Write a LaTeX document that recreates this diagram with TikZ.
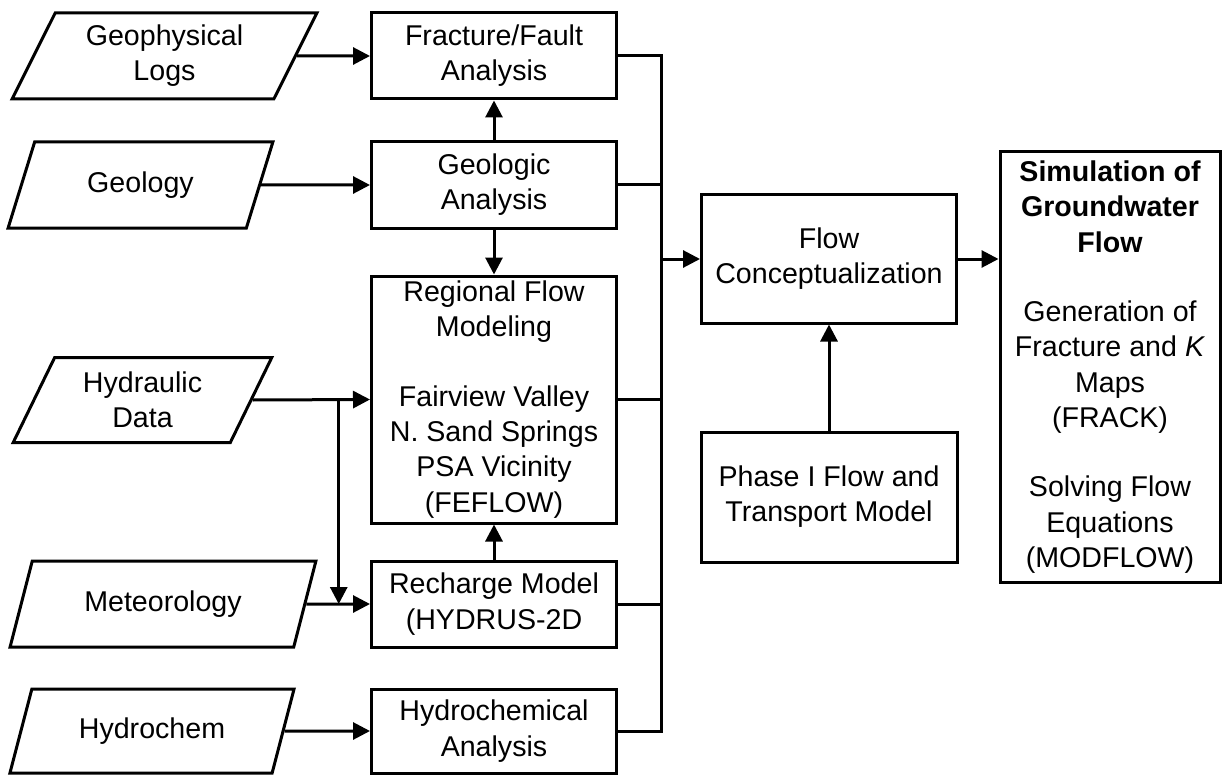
\documentclass[tikz,border=0pt]{standalone}
\usepackage{fontspec}
\setmainfont{Liberation Sans}
\usetikzlibrary{arrows.meta,shapes.geometric}

\begin{document}
\begin{tikzpicture}[x=0.5pt,y=-0.5pt,line width=1.5pt,
    txt/.style={font=\fontsize{14.3}{17.6}\selectfont,align=center},
    databox/.style={txt,draw,trapezium,trapezium left angle=63.4,
      trapezium right angle=116.6,trapezium stretches=true,
      minimum height=43pt,inner sep=0pt},
    procbox/.style={txt,draw,rectangle,inner sep=0pt},
    arr/.style={-{Triangle[length=8.5pt,width=8.5pt]}}]
  \useasboundingbox (0,0) rectangle (1224,775);
  % input data (left column)
  \node[databox,minimum width=152.5pt] (geolog) at (164.5,56) {Geophysical\\Logs};
  \node[databox,minimum width=132.5pt] (geology) at (140.5,185) {Geology};
  \node[databox,minimum width=130.5pt,minimum height=42.5pt] (hydraulic) at (142.5,400) {Hydraulic\\Data};
  \node[databox,minimum width=154pt] (meteo) at (163,604) {Meteorology};
  \node[databox,minimum width=143pt,minimum height=42pt] (hydrochem) at (152,731) {Hydrochem};
  % analyses (middle column)
  \node[procbox,minimum width=122.5pt,minimum height=43pt] (fracture) at (494,56) {Fracture/Fault\\Analysis};
  \node[procbox,minimum width=122.5pt,minimum height=43pt] (geologic) at (494,185) {Geologic\\Analysis};
  \node[procbox,minimum width=122.5pt,minimum height=123.5pt] (regional) at (494,399.5)
    {Regional Flow\\Modeling\\[17.2pt]Fairview Valley\\N. Sand Springs\\PSA Vicinity\\(FEFLOW)};
  \node[procbox,minimum width=122.5pt,minimum height=43pt] (recharge) at (494,604) {Recharge Model\\(HYDRUS-2D};
  \node[procbox,minimum width=122.5pt,minimum height=42pt] (hydrochemical) at (494,731) {Hydrochemical\\Analysis};
  % conceptual model and simulation
  \node[procbox,minimum width=127.5pt,minimum height=64pt] (flow) at (829,259) {Flow\\Conceptualization};
  \node[procbox,minimum width=128pt,minimum height=65pt] (phase) at (829,497) {Phase I Flow and\\Transport Model};
  \node[procbox,minimum width=110pt,minimum height=215pt] (sim) at (1110,367)
    {\textbf{Simulation of}\\\textbf{Groundwater}\\\textbf{Flow}\\[17.2pt]Generation of\\Fracture and \textit{K}\\Maps\\(FRACK)\\[17.2pt]Solving Flow\\Equations\\(MODFLOW)};
  % inputs to analyses
  \draw[arr] (geolog.east) -- (fracture.west);
  \draw[arr] (geology.east) -- (geologic.west);
  \draw[arr] (hydraulic.east) -- (regional.west);
  \draw[arr] (meteo.east) -- (recharge.west);
  \draw[arr] (hydrochem.east) -- (hydrochemical.west);
  \path (hydraulic.east) ++(86,0) coordinate (split);
  \draw[arr] (split) -- (split |- recharge.west);
  \draw[arr] (geologic.north) -- (fracture.south);
  \draw[arr] (geologic.south) -- (regional.north);
  \draw[arr] (recharge.north) -- (regional.south);
  % collector line to flow conceptualization
  \path (fracture.east) ++(43,0) coordinate (bus);
  \draw (fracture.east) -- (bus) -- (bus |- hydrochemical.east) -- (hydrochemical.east);
  \draw (geologic.east) -- (geologic.east -| bus);
  \draw (regional.east) -- (regional.east -| bus);
  \draw (recharge.east) -- (recharge.east -| bus);
  \draw[arr] (bus |- flow.west) -- (flow.west);
  \draw[arr] (phase.north) -- (flow.south);
  \draw[arr] (flow.east) -- (flow.east -| sim.west);
\end{tikzpicture}
\end{document}
